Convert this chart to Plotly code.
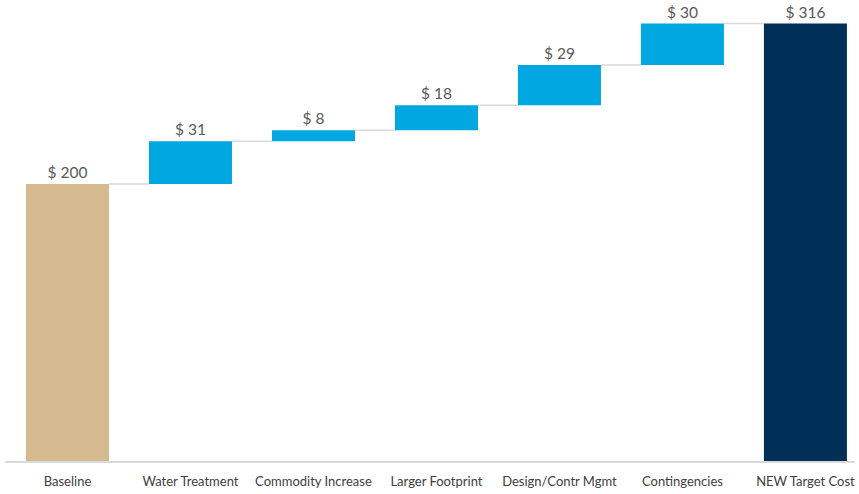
import plotly.graph_objects as go

categories = ["Baseline", "Water Treatment", "Commodity Increase", "Larger Footprint",
              "Design/Contr Mgmt", "Contingencies", "NEW Target Cost"]
values = [200, 31, 8, 18, 29, 30, 316]
kinds = ["absolute", "relative", "relative", "relative", "relative", "relative", "total"]
labels = ["$ 200", "$ 31", "$ 8", "$ 18", "$ 29", "$ 30", "$ 316"]

color_map = {"absolute": "#D5B98F", "relative": "#00A7E0", "total": "#003057"}

bases, heights, running = [], [], 0
for v, k in zip(values, kinds):
    if k == "relative":
        bases.append(running)
        heights.append(v)
        running += v
    else:
        bases.append(0)
        heights.append(v)
        running = v

bw = 0.675
xs = list(range(len(categories)))

fig = go.Figure()

# connector lines
cx, cy = [], []
for i in range(len(categories) - 1):
    top = bases[i] + heights[i]
    cx += [i + bw / 2, i + 1 - bw / 2, None]
    cy += [top, top, None]
fig.add_trace(go.Scatter(x=cx, y=cy, mode="lines", line=dict(color="#D9D9D9", width=1.5),
                         hoverinfo="skip", showlegend=False))

fig.add_trace(go.Bar(
    x=xs, y=heights, base=bases, width=bw,
    marker=dict(color=[color_map[k] for k in kinds], line=dict(width=0)),
    text=labels, textposition="outside", cliponaxis=False,
    textfont=dict(family="Lato", size=15.5, color="#595959"),
    showlegend=False,
))

fig.update_layout(
    width=859, height=494,
    margin=dict(l=5, r=4, t=0, b=33),
    paper_bgcolor="white", plot_bgcolor="white",
    font=dict(family="Lato", color="#404040"),
    xaxis=dict(
        range=[-0.508, 6.403], tickmode="array", tickvals=xs, ticktext=categories,
        showline=True, linecolor="#D9D9D9", linewidth=2, showgrid=False, zeroline=False,
        ticks="outside", ticklen=7, tickcolor="rgba(0,0,0,0)",
        tickfont=dict(family="Lato", size=13, color="#404040"),
    ),
    yaxis=dict(range=[0, 333], visible=False, showgrid=False, zeroline=False),
)

fig.write_html("out.html")
